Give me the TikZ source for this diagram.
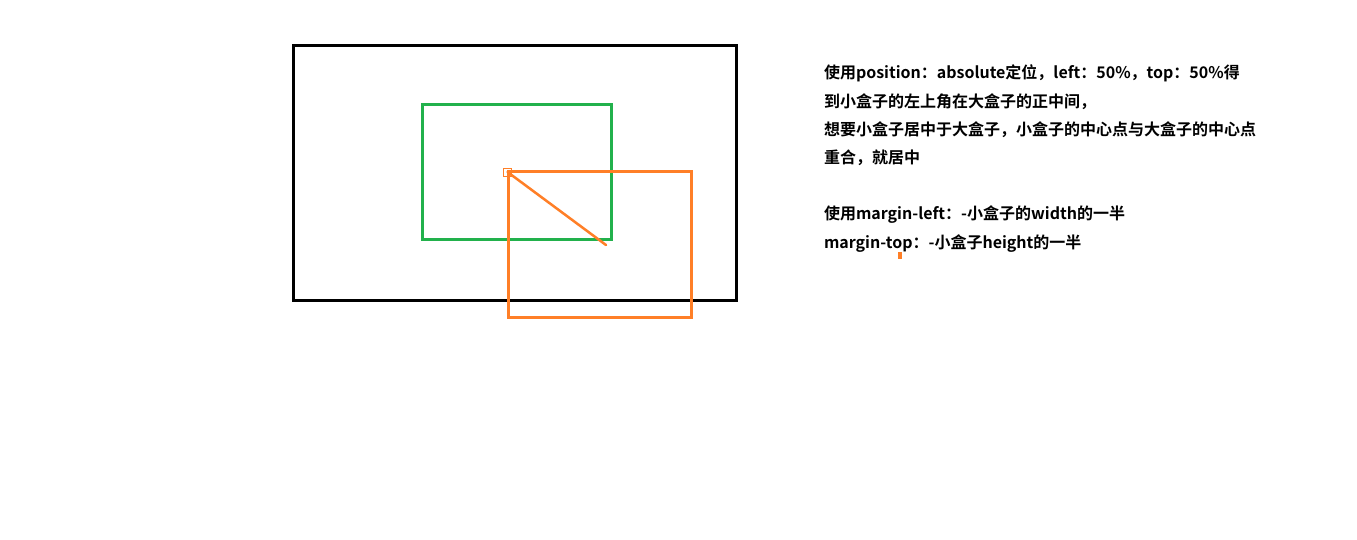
\documentclass[tikz,border=0pt]{standalone}
\usepackage{fontspec}
\newfontfamily\cjk{Noto Sans CJK SC}[BoldFont={Noto Sans CJK SC Bold}]
\usetikzlibrary{positioning}

\definecolor{paintgreen}{RGB}{34,177,76}
\definecolor{paintorange}{RGB}{255,127,39}

\begin{document}
\begin{tikzpicture}[
  x=1pt, y=-1pt,
  every node/.style={inner sep=0pt, outer sep=0pt},
  frame/.style={draw, line width=3pt, anchor=north west},
  note/.style={font=\cjk\bfseries\fontsize{16}{28.2}\selectfont, align=left, anchor=north west}
]
\useasboundingbox[fill=white] (0,0) rectangle (1357,539);

% boxes
\node[frame, draw=black, minimum width=443pt, minimum height=255pt] (parent) at (293.5,45.5) {};
\node[frame, draw=paintgreen, minimum width=189pt, minimum height=135pt] (centred) at (422.5,104.5) {};
\node[frame, draw=paintorange, minimum width=183pt, minimum height=146pt] (child) at (508.5,171.5) {};

% corner mark and diagonal
\node[draw=paintorange, line width=1pt, minimum size=8pt] (corner) at (507.5,172) {};
\coordinate (tip) at (606,245);
\draw[paintorange, line width=2.5pt, line cap=round] (corner.center) -- (tip);

% explanation
\node[note] (explain) at (824,65) {%
  使用position：absolute定位，left：50\%，top：50\%得\\
  到小盒子的左上角在大盒子的正中间，\\
  想要小盒子居中于大盒子，小盒子的中心点与大盒子的中心点\\
  重合，就居中\\[28.2pt]
  使用margin-left：-小盒子的width的一半\\
  margin-top：-小盒子height的一半};

% cursor
\node[fill=paintorange, minimum width=4pt, minimum height=7pt] (cursor) at (900,255.5) {};
\end{tikzpicture}
\end{document}
